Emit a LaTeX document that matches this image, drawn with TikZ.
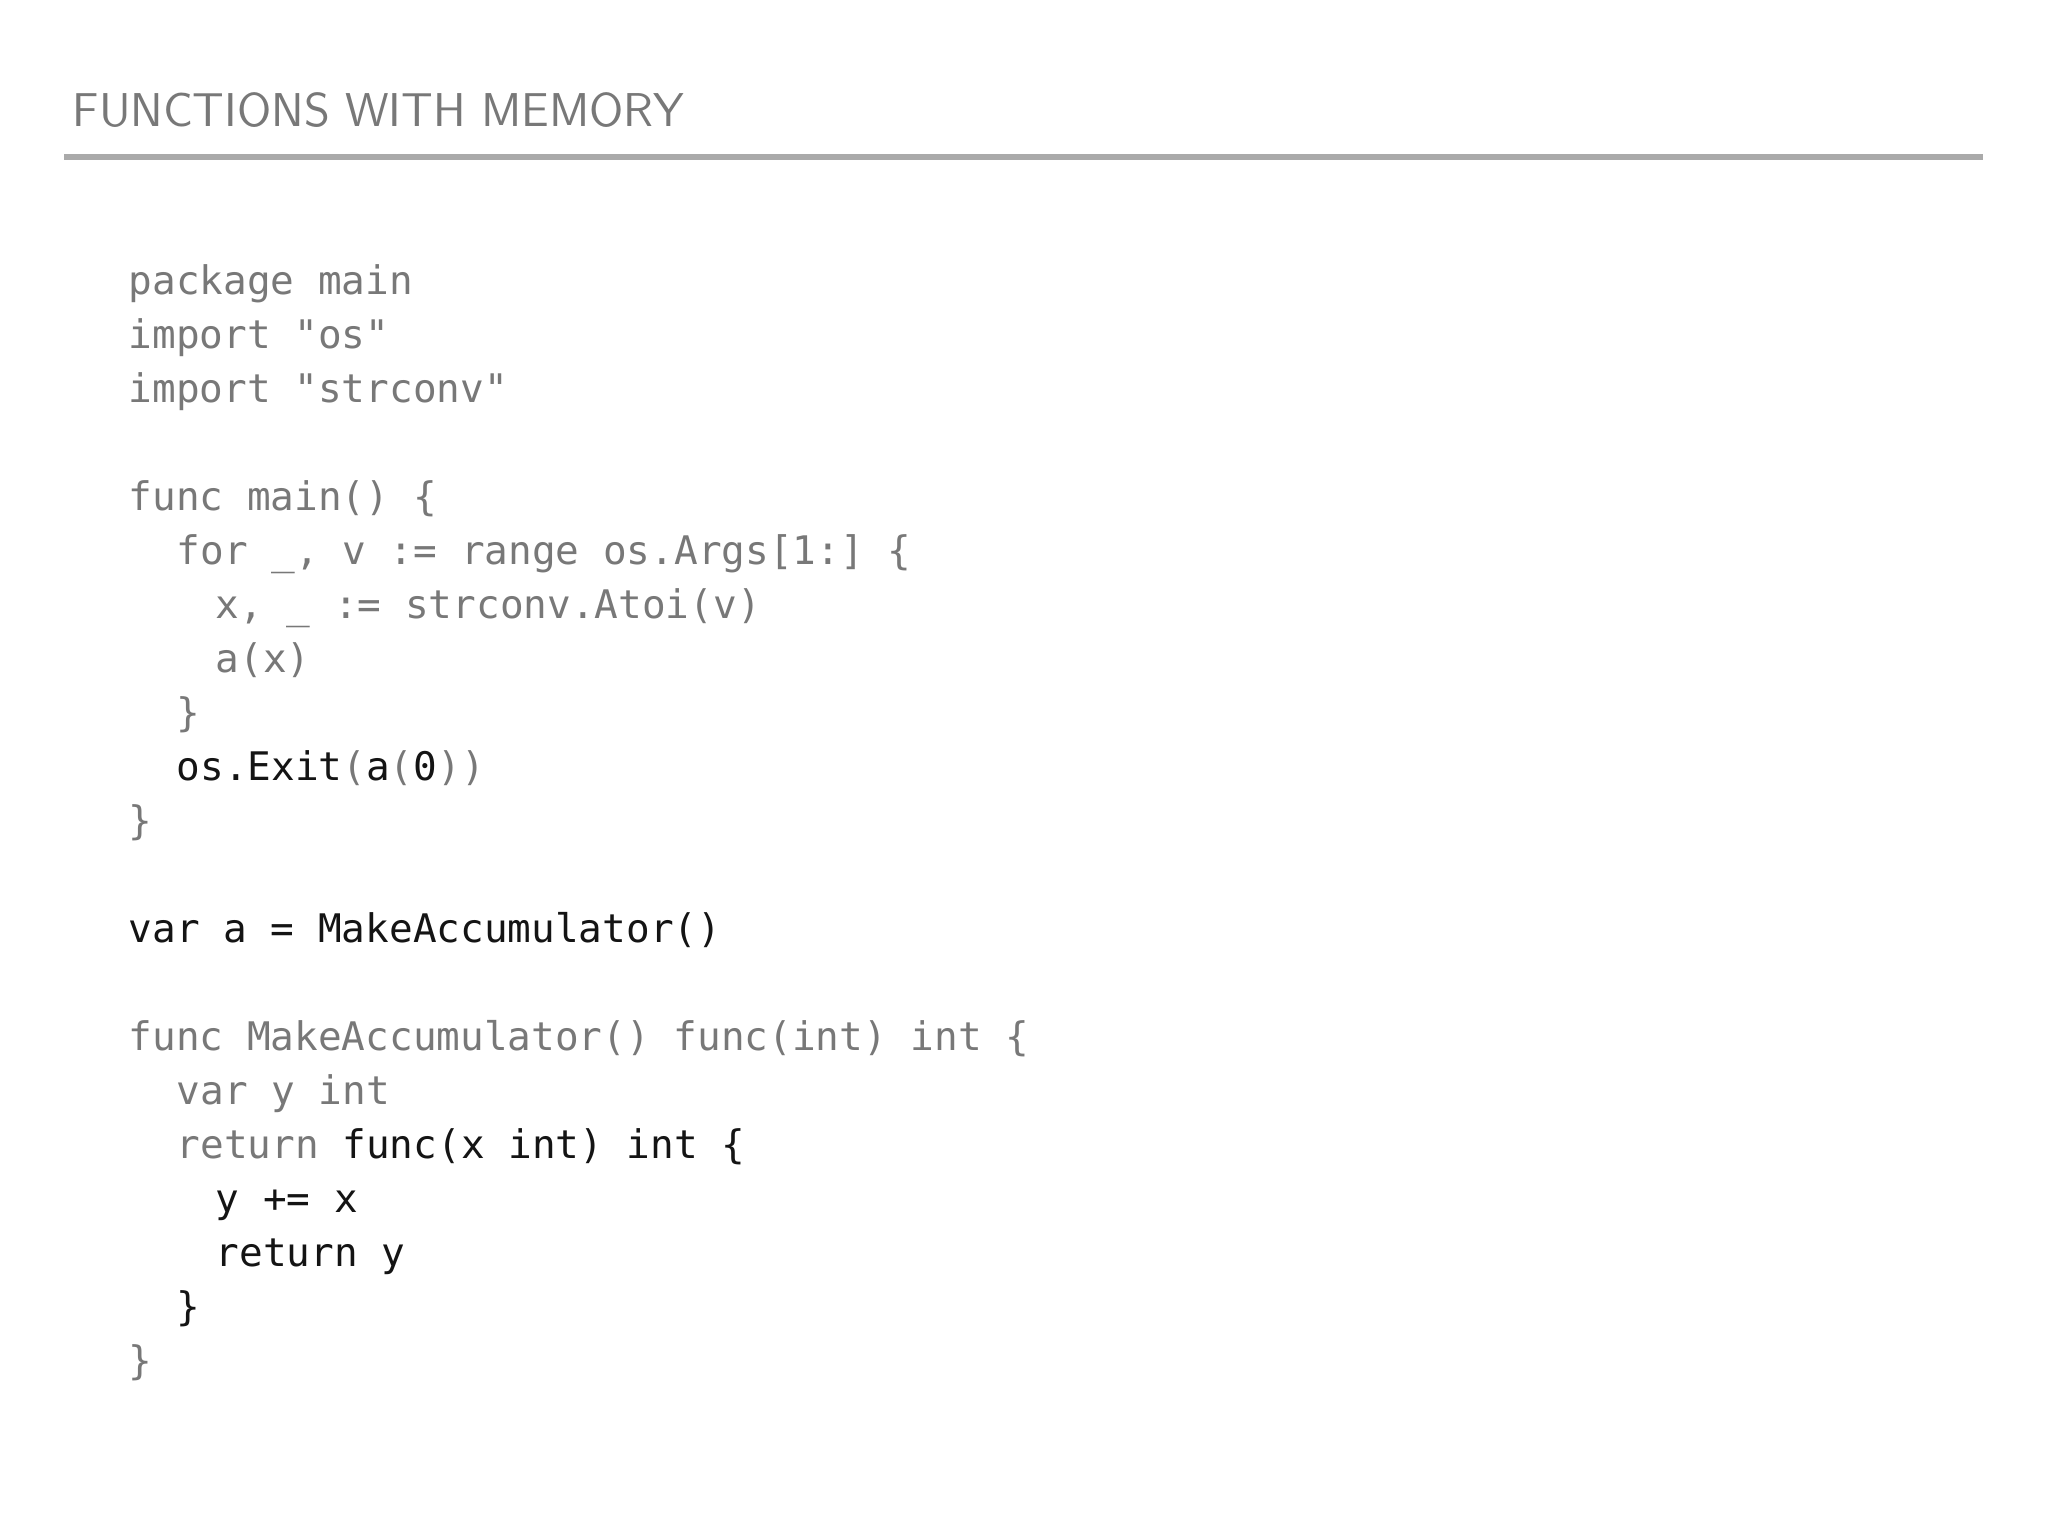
\documentclass[tikz,border=0pt]{standalone}
\usepackage{fontspec}
\setmainfont{Open Sans}
\setmonofont{DejaVu Sans Mono}
\definecolor{codegray}{RGB}{120,120,120}
\definecolor{codeblack}{RGB}{20,20,20}
\definecolor{rulegray}{RGB}{170,170,170}
\begin{document}
\begin{tikzpicture}[x=1cm,y=1cm,
  code/.style={anchor=base west,inner sep=0pt,text=codegray,
    font=\fontsize{11.2pt}{13pt}\selectfont\ttfamily},
  title/.style={anchor=base west,inner sep=0pt,text=codegray,
    font=\fontsize{13.5pt}{16pt}\selectfont\sffamily}]
\useasboundingbox (0,0) rectangle (20.48,-15.36);
\fill[white] (0,0) rectangle (20.48,-15.36);
\newcommand{\codeln}[1]{-2.95-0.54*#1}
\node[title] (t) at (0.72,-1.27) {FUNCTIONS WITH MEMORY};
\draw[rulegray,line width=1.6pt] (0.64,-1.57) -- (19.83,-1.57);
\node[code] (l0) at (1.28,{\codeln{0}}) {package main};
\node[code] (l1) at (1.28,{\codeln{1}}) {import "os"};
\node[code] (l2) at (1.28,{\codeln{2}}) {import "strconv"};
\node[code] (l4) at (1.28,{\codeln{4}}) {func main() \{};
\node[code] (l5) at (1.76,{\codeln{5}}) {for \_, v := range os.Args[1:] \{};
\node[code] (l6) at (2.15,{\codeln{6}}) {x, \_ := strconv.Atoi(v)};
\node[code] (l7) at (2.15,{\codeln{7}}) {a(x)};
\node[code] (l8) at (1.76,{\codeln{8}}) {\}};
\node[code] (l9) at (1.76,{\codeln{9}}) {\textcolor{codeblack}{os.Exit}(\textcolor{codeblack}{a}(\textcolor{codeblack}{0}))};
\node[code] (l10) at (1.28,{\codeln{10}}) {\}};
\node[code,text=codeblack] (l12) at (1.28,{\codeln{12}}) {var a = MakeAccumulator()};
\node[code] (l14) at (1.28,{\codeln{14}}) {func MakeAccumulator() func(int) int \{};
\node[code] (l15) at (1.76,{\codeln{15}}) {var y int};
\node[code] (l16) at (1.76,{\codeln{16}}) {return \textcolor{codeblack}{func(x int) int \{}};
\node[code,text=codeblack] (l17) at (2.15,{\codeln{17}}) {y += x};
\node[code,text=codeblack] (l18) at (2.15,{\codeln{18}}) {return y};
\node[code,text=codeblack] (l19) at (1.76,{\codeln{19}}) {\}};
\node[code] (l20) at (1.28,{\codeln{20}}) {\}};
\end{tikzpicture}
\end{document}
